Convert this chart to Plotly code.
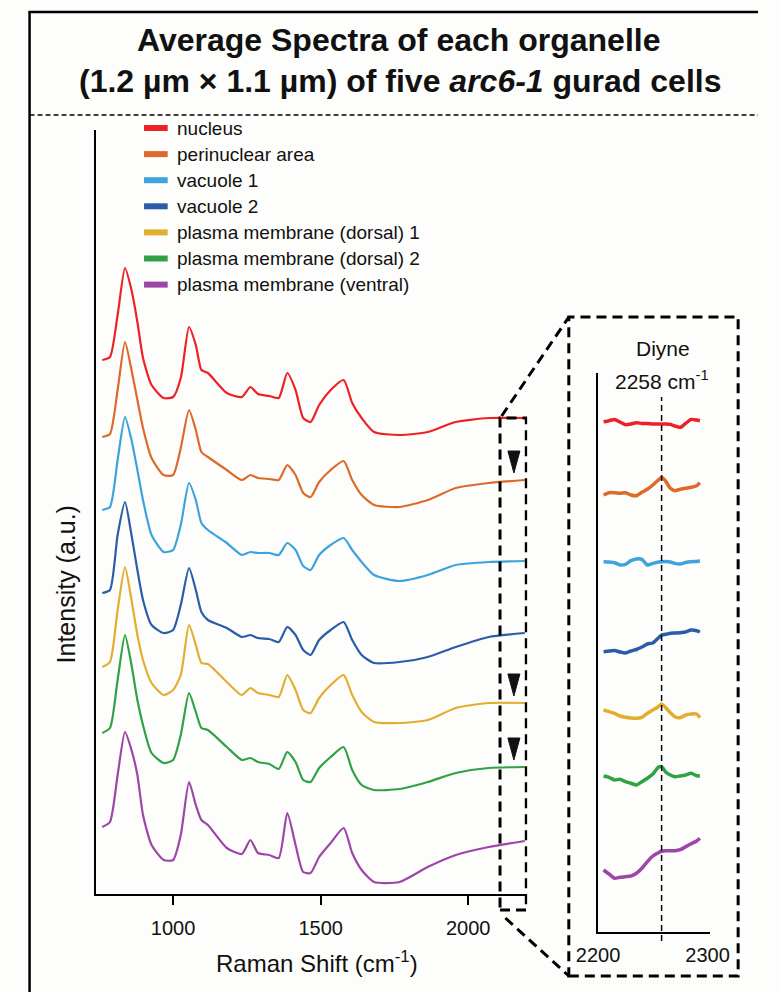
import plotly.graph_objects as go

# ---- data -------------------------------------------------------------
SERIES = [
    "nucleus",
    "perinuclear area",
    "vacuole 1",
    "vacuole 2",
    "plasma membrane (dorsal) 1",
    "plasma membrane (dorsal) 2",
    "plasma membrane (ventral)",
]
COLORS = ["#ec2227", "#dd6a2a", "#3ea3dc", "#2b5ca8", "#e2ae2f", "#2fa246", "#9c47a8"]

# Raman shift (cm-1) sampling of the full spectra
RAMAN_SHIFT = [760, 786, 812, 837, 859, 879, 898, 927, 968, 1000, 1026, 1054,
               1077, 1096, 1118, 1182, 1233, 1262, 1288, 1326, 1358, 1387, 1415,
               1441, 1466, 1495, 1534, 1578, 1607, 1639, 1681, 1767, 1863, 1958,
               2070, 2192]

# intensities (a.u.) above each spectrum's own minimum
NUCLEUS = [75, 78, 120, 167, 145, 113, 77, 50, 37, 38, 57, 108, 90, 65, 62, 42, 38,
           48, 41, 39, 37, 62, 45, 17, 13, 30, 45, 55, 32, 17, 3, 0, 3, 13, 17, 17]
PERINUCLEAR = [70, 73, 117, 165, 137, 107, 79, 49, 32, 32, 59, 97, 77, 55, 50, 37, 27,
               32, 29, 28, 27, 42, 32, 14, 10, 25, 37, 46, 27, 12, 2, 0, 7, 19, 24, 27]
VACUOLE_1 = [71, 74, 121, 164, 141, 111, 81, 46, 29, 31, 56, 98, 81, 58, 51, 38, 26,
             29, 28, 28, 26, 38, 31, 15, 11, 26, 36, 43, 31, 19, 6, 0, 6, 16, 19, 20]
VACUOLE_2 = [70, 73, 128, 161, 128, 93, 63, 38, 30, 33, 58, 95, 73, 51, 43, 35, 26,
             28, 25, 24, 21, 36, 28, 13, 8, 23, 33, 41, 23, 8, 0, 1, 6, 16, 26, 30]
PM_DORSAL_1 = [56, 61, 113, 156, 123, 88, 63, 40, 28, 33, 48, 98, 78, 60, 59, 41, 28,
               35, 30, 28, 26, 48, 33, 13, 10, 25, 38, 48, 28, 11, 1, 0, 3, 15, 20, 20]
PM_DORSAL_2 = [57, 62, 110, 155, 125, 90, 65, 37, 27, 30, 55, 97, 78, 62, 60, 43, 30,
               32, 28, 26, 21, 38, 28, 10, 8, 22, 33, 43, 20, 5, 0, 1, 8, 17, 22, 23]
PM_VENTRAL = [55, 60, 107, 150, 132, 107, 67, 37, 22, 22, 47, 100, 77, 62, 57, 34, 28,
              42, 29, 27, 24, 69, 37, 10, 9, 25, 39, 54, 29, 12, 0, 0, 15, 27, 35, 41]
SPECTRA = [NUCLEUS, PERINUCLEAR, VACUOLE_1, VACUOLE_2, PM_DORSAL_1, PM_DORSAL_2, PM_VENTRAL]
STACK_OFFSET = [457, 385, 311, 229, 169, 102, 10]

# diyne window (2200-2300 cm-1), magnified
DIYNE_SHIFT = [2205, 2210, 2215, 2220, 2225, 2230, 2235, 2240, 2245, 2250, 2255,
               2258, 2262, 2266, 2270, 2275, 2280, 2285, 2290, 2293]
DIYNE_NUCLEUS = [0, 1.0, 2.3, -0.3, -3.0, -2.3, -1.0, -1.7, -1.7, -2.3, -2.3, -2.3,
                 -2.3, -2.7, -4.3, -5.7, -1.7, 2.3, 1.7, 1.0]
DIYNE_PERINUCLEAR = [0, 2.3, 2.3, 1.7, 2.3, 0, -0.7, 2.7, 5.7, 10.0, 15.0, 17.7, 13.3,
                     6.7, 4.3, 5.7, 6.7, 7.7, 9.3, 12.3]
DIYNE_VACUOLE_1 = [0, -0.3, -1.0, -3.3, -2.7, 1.0, 2.7, 2.3, -3.3, -1.7, -0.3, 0, 0.3,
                   -0.3, -1.7, -2.3, -0.7, 0, 0.3, 0.7]
DIYNE_VACUOLE_2 = [0, 0.7, 1.2, -0.3, -1.3, 0.7, 2.2, 4.7, 7.7, 8.7, 13.7, 16.7, 17.4,
                   18.4, 18.7, 19.0, 19.7, 21.7, 21.0, 19.7]
DIYNE_PM_DORSAL_1 = [0, -1.7, -3.3, -6.0, -7.3, -8.0, -8.3, -7.3, -3.3, 0, 3.3, 6.0,
                     2.0, -2.7, -6.7, -7.7, -5.0, -4.0, -4.0, -7.7]
DIYNE_PM_DORSAL_2 = [0, -1.3, -4.0, -3.3, -5.7, -7.3, -9.0, -5.7, -2.3, 2.0, 8.7, 9.3,
                     3.7, 1.0, -0.7, 0, 1.0, 2.7, 0.3, 0]
DIYNE_PM_VENTRAL = [0, -4.0, -8.3, -7.3, -6.7, -6.0, -3.3, 1.7, 8.3, 14.0, 17.3, 18.7,
                    19.3, 19.3, 19.3, 20.3, 23.3, 26.3, 29.0, 31.7]
DIYNE_SPECTRA = [DIYNE_NUCLEUS, DIYNE_PERINUCLEAR, DIYNE_VACUOLE_1, DIYNE_VACUOLE_2,
                 DIYNE_PM_DORSAL_1, DIYNE_PM_DORSAL_2, DIYNE_PM_VENTRAL]
DIYNE_OFFSET = [510.3, 437.0, 370.3, 280.3, 222.0, 156.0, 62.0]
DIYNE_PEAK = 2258
DIYNE_MARKED = [1, 4, 5]          # spectra showing the diyne band
MARKER_SHIFT = 2155

MAIN_TICKS = [1000, 1500, 2000]
INSET_TICKS = [2200, 2300]
ZOOM_WINDOW = [2108, 2197]

# ---- page geometry (pixels -> paper fractions) ------------------------
W, H = 778, 992


def px(x):
    return x / W


def py(y):
    return 1 - y / H


FONT = "Liberation Sans, Arial, Helvetica, sans-serif"
INK = "#111111"

fig = go.Figure()

for name, color, spec, off in zip(SERIES, COLORS, SPECTRA, STACK_OFFSET):
    fig.add_trace(go.Scatter(
        x=RAMAN_SHIFT, y=[v + off for v in spec], mode="lines", name=name,
        line=dict(color=color, width=2.2, shape="spline", smoothing=0.6),
        xaxis="x", yaxis="y", showlegend=False,
    ))

for name, color, spec, off in zip(SERIES, COLORS, DIYNE_SPECTRA, DIYNE_OFFSET):
    fig.add_trace(go.Scatter(
        x=DIYNE_SHIFT, y=[v + off for v in spec], mode="lines", name=name,
        line=dict(color=color, width=3.5, shape="spline", smoothing=0.5),
        xaxis="x2", yaxis="y2", showlegend=False,
    ))

axis_common = dict(showgrid=False, zeroline=False, showline=True, linecolor="black",
                   linewidth=2)

fig.update_layout(
    width=W, height=H,
    margin=dict(l=0, r=0, t=0, b=0),
    paper_bgcolor="#fdfdfb", plot_bgcolor="rgba(0,0,0,0)",
    font=dict(family=FONT, color=INK),
    xaxis=dict(domain=[px(78), px(534)], range=[738, 2200], tickvals=MAIN_TICKS,
               ticks="outside", ticklen=9, tickwidth=2, tickcolor="black",
               ticklabelstandoff=6, tickfont=dict(size=20, family=FONT, color=INK),
               anchor="y", **axis_common),
    yaxis=dict(domain=[py(894), py(130)], range=[-2, 762], showticklabels=False,
               ticks="", anchor="x", **axis_common),
    xaxis2=dict(domain=[px(609), px(727)], range=[2200, 2302], tickvals=INSET_TICKS,
                ticks="", ticklabelstandoff=4, tickfont=dict(size=20, family=FONT, color=INK),
                anchor="y2", **axis_common),
    yaxis2=dict(domain=[py(932), py(373)], range=[0, 559], showticklabels=False,
                ticks="", anchor="x2", **axis_common),
)

shapes = []
# outer frame (top and left edges) and dashed separator under the title
shapes.append(dict(type="line", xref="paper", yref="paper", x0=px(7), x1=1.0,
                   y0=py(12), y1=py(12), line=dict(color="black", width=2.5)))
shapes.append(dict(type="line", xref="paper", yref="paper", x0=px(8), x1=px(8),
                   y0=py(11), y1=0, line=dict(color="black", width=2.5)))
shapes.append(dict(type="line", xref="paper", yref="paper", x0=px(8), x1=1.0,
                   y0=py(115), y1=py(115),
                   line=dict(color="black", width=1.5, dash="5px,3px")))

# dashed window on the main spectra and the magnified panel frame
box_dash = dict(color="black", width=3, dash="10px,6px")
shapes.append(dict(type="rect", xref="x", yref="paper",
                   x0=ZOOM_WINDOW[0], x1=ZOOM_WINDOW[1], y0=py(910), y1=py(418),
                   line=box_dash))
shapes.append(dict(type="rect", xref="paper", yref="paper",
                   x0=px(578), x1=px(757), y0=py(976), y1=py(317), line=box_dash))
shapes.append(dict(type="line", xref="paper", yref="paper",
                   x0=px(507), y0=py(416), x1=px(578), y1=py(317), line=box_dash))
shapes.append(dict(type="line", xref="paper", yref="paper",
                   x0=px(511), y0=py(918), x1=px(578), y1=py(976), line=box_dash))

# 2258 cm-1 marker in the magnified panel
shapes.append(dict(type="line", xref="x2", yref="paper", x0=DIYNE_PEAK, x1=DIYNE_PEAK,
                   y0=py(941), y1=py(397),
                   line=dict(color="black", width=1.5, dash="6px,4px")))

# arrowheads over the spectra carrying the diyne band
for i in DIYNE_MARKED:
    shapes.append(dict(type="path", xref="x", yref="y",
                       xsizemode="pixel", ysizemode="pixel",
                       xanchor=MARKER_SHIFT, yanchor=SPECTRA[i][-1] + STACK_OFFSET[i],
                       path="M -6,29 L 6,29 L 0,7 Z",
                       fillcolor=INK, line=dict(color=INK, width=1)))

# legend swatches
LEG_Y0, LEG_STEP = 128, 26.1
for i, color in enumerate(COLORS):
    yy = LEG_Y0 + i * LEG_STEP
    shapes.append(dict(type="line", xref="paper", yref="paper", x0=px(129), x1=px(154),
                       y0=py(yy), y1=py(yy), line=dict(color=color, width=6)))

annotations = [
    dict(text="<b>Average Spectra of each organelle</b>", x=px(398), y=py(40),
         font=dict(size=32, family=FONT, color=INK)),
    dict(text="<b>(1.2 µm × 1.1 µm) of five <i>arc6-1</i> gurad cells</b>",
         x=px(400), y=py(81), font=dict(size=32, family=FONT, color=INK)),
    dict(text="Raman Shift (cm<sup>-1</sup>)", x=px(312), y=py(962),
         font=dict(size=24, family=FONT, color=INK)),
    dict(text="Intensity (a.u.)", x=px(47), y=py(584), textangle=-90,
         font=dict(size=25, family=FONT, color=INK)),
    dict(text="Diyne", x=px(678), y=py(348), font=dict(size=21, family=FONT, color=INK)),
    dict(text="2258 cm<sup>-1</sup>", x=px(676), y=py(380),
         font=dict(size=21, family=FONT, color=INK)),
]
for i, name in enumerate(SERIES):
    annotations.append(dict(text=name, x=px(162), y=py(LEG_Y0 + i * LEG_STEP),
                            xanchor="left", font=dict(size=19, family=FONT, color=INK)))
for a in annotations:
    a.setdefault("xanchor", "center")
    a.update(xref="paper", yref="paper", yanchor="middle", showarrow=False)

fig.update_layout(shapes=shapes, annotations=annotations)

fig.write_html("out.html")
